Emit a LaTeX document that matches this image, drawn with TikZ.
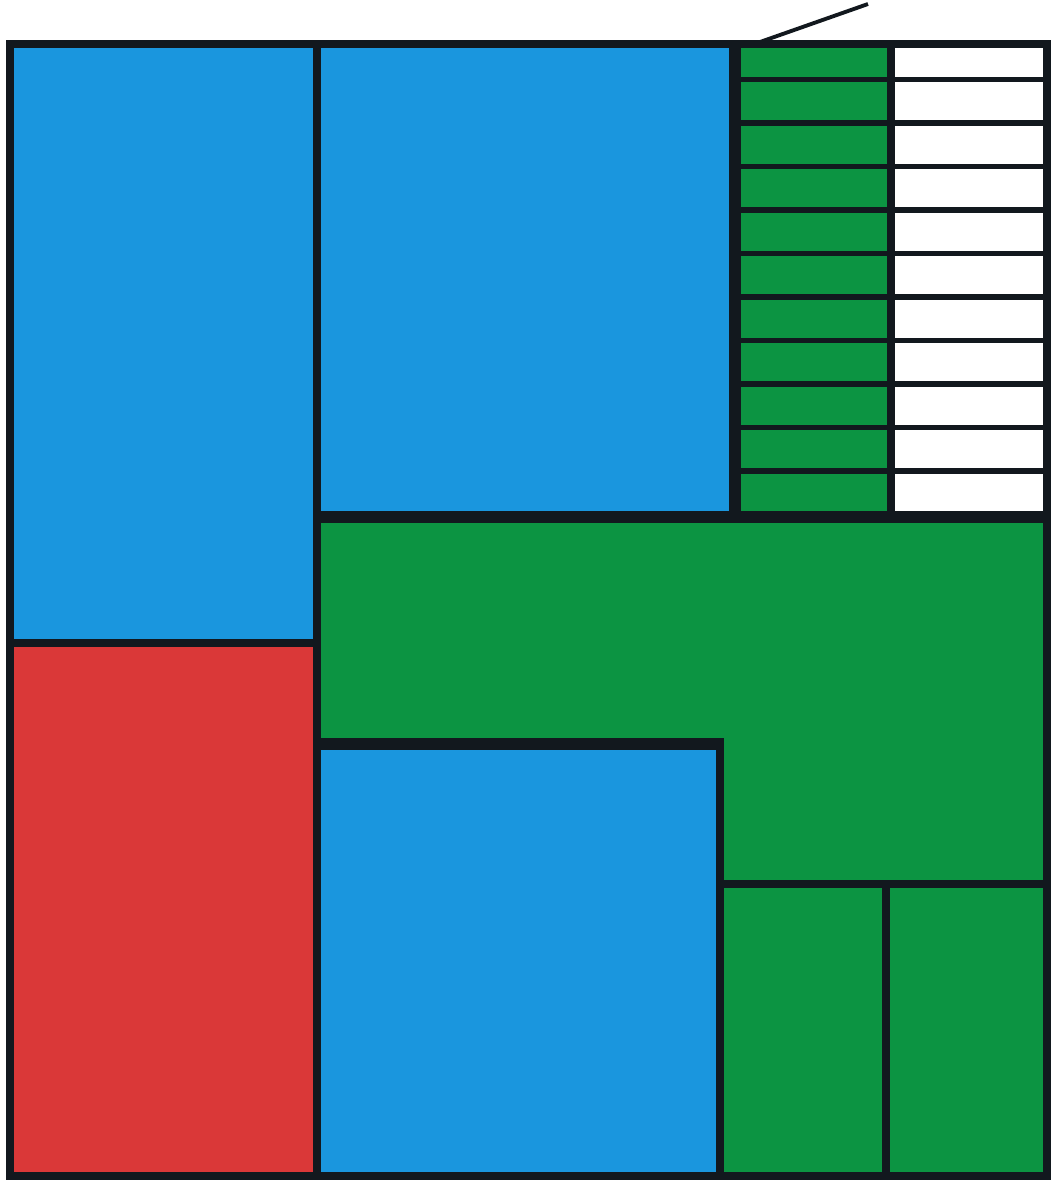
\documentclass[tikz,border=0pt]{standalone}
\usepackage{xcolor}
\usepackage{tikz}
\definecolor{roomblue}{RGB}{26,150,222}
\definecolor{roomgreen}{RGB}{12,148,66}
\definecolor{roomred}{RGB}{218,56,56}
\definecolor{wallcol}{RGB}{18,24,30}
\tikzset{
  blueroom/.style={fill=roomblue},
  greenroom/.style={fill=roomgreen},
  redroom/.style={fill=roomred},
  wall/.style={draw=wallcol, line width=2.2pt},
  heavywall/.style={draw=wallcol, line width=3.2pt},
  tread/.style={draw=wallcol, line width=1.6pt},
  pointer/.style={draw=wallcol, line width=1.1pt}
}

\begin{document}
\begin{tikzpicture}[x=0.01cm, y=-0.01cm]
  \useasboundingbox (0,0) rectangle (1055,1184);
  % rooms
  \fill[blueroom] (10,44) rectangle (317,643);
  \fill[redroom] (10,643) rectangle (317,1176);
  \fill[blueroom] (317,44) rectangle (735,517);
  \fill[greenroom] (317,517) -- (1047,517) -- (1047,884) -- (720,884)
    -- (720,744) -- (317,744) -- cycle;
  \fill[blueroom] (317,744) rectangle (720,1176);
  \fill[greenroom] (720,884) rectangle (886,1176);
  \fill[greenroom] (886,884) rectangle (1047,1176);
  % stair treads
  \fill[greenroom] (735,44) rectangle (891,517);
  \foreach \k in {0,...,9}
    \draw[tread] (735,{79.5+43.5*\k}) -- (1047,{79.5+43.5*\k});
  \draw[wall] (891,44) -- (891,517);
  % walls
  \draw[wall] (10,44) rectangle (1047,1176);
  \draw[wall] (317,44) -- (317,1176);
  \draw[wall] (10,643) -- (317,643);
  \draw[heavywall] (735,44) -- (735,517);
  \draw[heavywall] (317,517) -- (1047,517);
  \draw[heavywall] (317,744) -- (724,744);
  \draw[wall] (720,744) -- (720,1176);
  \draw[wall] (720,884) -- (1047,884);
  \draw[wall] (886,884) -- (886,1176);
  % pointer at the top
  \coordinate (p0) at (760,42);
  \coordinate (p1) at (868,4);
  \draw[pointer] (p0) -- (p1);
\end{tikzpicture}
\end{document}
